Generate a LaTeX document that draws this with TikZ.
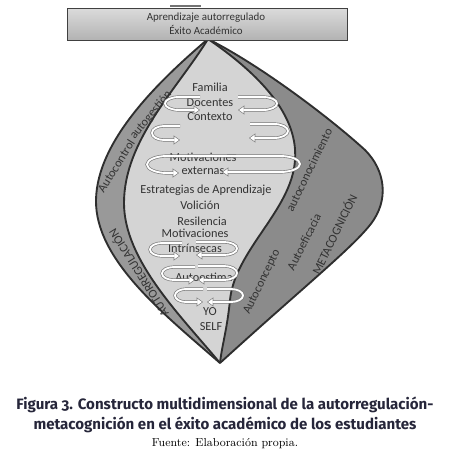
\documentclass[tikz,border=0pt]{standalone}
\usepackage{fontspec}
\newfontfamily\calfont{Carlito}
\newfontfamily\capfont[Numbers=OldStyle]{Fira Sans}
\usetikzlibrary{arrows.meta}
\definecolor{capcol}{RGB}{38,38,58}
\definecolor{lightreg}{gray}{0.83}
\definecolor{bandreg}{gray}{0.60}
\definecolor{darkreg}{gray}{0.545}
\definecolor{edgecol}{gray}{0.18}
\definecolor{txtcol}{gray}{0.2}
\tikzset{
  lbl/.style={font=\calfont\fontsize{9.2}{10}\selectfont, text=txtcol, inner sep=0pt},
  boxlbl/.style={font=\calfont\fontsize{8.2}{9}\selectfont, text=txtcol, inner sep=0pt},
  caplbl/.style={font=\capfont\bfseries\fontsize{11.3}{13}\selectfont, text=capcol, inner sep=0pt},
  edgeline/.style={draw=edgecol, line width=1.4pt, line join=round},
  ringout/.style={draw=black!52, line width=2.4pt, -{Triangle[length=4.8pt,width=6.6pt]}},
  ringin/.style={draw=white, line width=1.4pt, shorten >=0.8pt, -{Triangle[length=3.5pt,width=4.8pt]}},
}
% left-opening ring: xs, ytop, xleft, ry, xend, rx
\newcommand\ringLpath[7]{\draw[#1] (#2,-#3) -- ({#4+#7},-#3) arc[start angle=90, end angle=270, x radius=#7, y radius=#5] -- (#6,{-#3-2*#5});}
\newcommand\ringRpath[7]{\draw[#1] (#2,-#3) -- ({#4-#7},-#3) arc[start angle=90, end angle=-90, x radius=#7, y radius=#5] -- (#6,{-#3-2*#5});}
\newcommand\ringL[6]{\ringLpath{ringout}{#1}{#2}{#3}{#4}{#5}{#6}\ringLpath{ringin}{#1}{#2}{#3}{#4}{#5}{#6}}
\newcommand\ringR[6]{\ringRpath{ringout}{#1}{#2}{#3}{#4}{#5}{#6}\ringRpath{ringin}{#1}{#2}{#3}{#4}{#5}{#6}}
\begin{document}
\begin{tikzpicture}[x=0.75pt, y=0.75pt]
\useasboundingbox (0,0) rectangle (449,-471);
\fill[white] (0,0) rectangle (449,-471);
\coordinate (A) at (208,-39);
\coordinate (B) at (220,-363);
% whole shape (dark right region)
\fill[darkreg] (A) .. controls (160,-80) and (97,-140) .. (96,-200)
  .. controls (95,-260) and (165,-315) .. (B)
  .. controls (300,-290) and (350,-250) .. (370,-225)
  .. controls (390,-200) and (385,-170) .. (365,-150)
  .. controls (330,-118) and (260,-65) .. (A) -- cycle;
% left band
\fill[bandreg] (A) .. controls (160,-80) and (97,-140) .. (96,-200)
  .. controls (95,-260) and (165,-315) .. (B)
  .. controls (180,-315) and (124,-260) .. (124,-203)
  .. controls (124,-140) and (178,-88) .. (A) -- cycle;
% light central region
\fill[lightreg] (A) .. controls (178,-88) and (124,-140) .. (124,-203)
  .. controls (124,-260) and (180,-315) .. (B)
  .. controls (222,-345) and (227,-330) .. (230,-300)
  .. controls (235,-250) and (292,-210) .. (295,-160)
  .. controls (298,-120) and (268,-80) .. (A) -- cycle;
% outlines
\draw[edgeline] (A) .. controls (160,-80) and (97,-140) .. (96,-200)
  .. controls (95,-260) and (165,-315) .. (B)
  .. controls (300,-290) and (350,-250) .. (370,-225)
  .. controls (390,-200) and (385,-170) .. (365,-150)
  .. controls (330,-118) and (260,-65) .. (A) -- cycle;
\draw[edgeline] (A) .. controls (178,-88) and (124,-140) .. (124,-203)
  .. controls (124,-260) and (180,-315) .. (B);
\draw[edgeline] (B) .. controls (222,-345) and (227,-330) .. (230,-300)
  .. controls (235,-250) and (292,-210) .. (295,-160)
  .. controls (298,-120) and (268,-80) .. (A);
% top box
\fill[black!55] (170,-5) rectangle (201,-7);
\path[draw=black!75, line width=0.7pt, top color=black!14, middle color=white, bottom color=black!30] (67,-8) rectangle (347,-40);
\node[boxlbl] (t1) at (206,-17.5) {Aprendizaje autorregulado};
\node[boxlbl] (t2) at (206,-30) {Éxito Académico};
% central labels
\node[lbl] (fam) at (210,-87) {Familia};
\node[lbl] (doc) at (210,-103) {Docentes};
\node[lbl] (ctx) at (210,-117) {Contexto};
\node[lbl] (mot1) at (203,-157) {Motivaciones};
\node[lbl] (ext) at (203,-171) {externas};
\node[lbl] (est) at (206,-190) {Estrategias de Aprendizaje};
\node[lbl] (vol) at (200,-205) {Volición};
\node[lbl] (res) at (202,-221) {Resilencia};
\node[lbl] (mot2) at (195,-233) {Motivaciones};
\node[lbl] (intr) at (195,-248) {Intrínsecas};
\node[lbl] (aest) at (204,-277) {Autoestima};
\node[lbl] (yo) at (210,-312) {YO};
\node[lbl] (self) at (211,-327) {SELF};
% rotated labels
\node[lbl, rotate=58] (actl) at (116,-166) {Autocontrol};
\node[lbl, rotate=51] (agest) at (151,-115) {autogestión};
\node[lbl, rotate=122] (autor) at (138,-273) {AUTORREGULACIÓN};
\node[lbl, rotate=64] (acon) at (309,-170) {autoconocimiento};
\node[lbl, rotate=63] (aefi) at (304,-242) {Autoeficacia};
\node[lbl, rotate=64] (meta) at (334,-234) {METACOGNICIÓN};
\node[lbl, rotate=64] (acep) at (262,-282) {Autoconcepto};
% rings
\ringL{200}{97}{165}{6.5}{200}{14}
\ringR{238}{97}{277}{6.5}{238}{14}
\ringL{180}{126}{152}{7}{180}{12}
\ringR{250}{124}{288}{7}{249}{14}
\ringL{236}{156}{147}{8.5}{179}{20}
\ringR{227}{156}{300}{8}{222}{20}
\ringL{182}{243}{150}{6.5}{180}{12}
\ringR{196}{242}{237}{6.5}{196}{13}
\ringL{195}{267}{162}{6.5}{195}{12}
\ringR{198}{266}{237}{7}{198}{13}
\ringL{203}{289}{175}{6.5}{203}{11}
\ringR{207}{289}{243}{6.5}{207}{12}
% caption
\node[caplbl] (cap1) at (225,-405) {Figura 3. Constructo multidimensional de la autorregulación-};
\node[caplbl] (cap2) at (225,-425) {metacognición en el éxito académico de los estudiantes};
\node[font=\fontsize{8.7}{10}\selectfont, inner sep=0pt] (src) at (225,-444) {Fuente: Elaboración propia.};
\end{tikzpicture}
\end{document}
